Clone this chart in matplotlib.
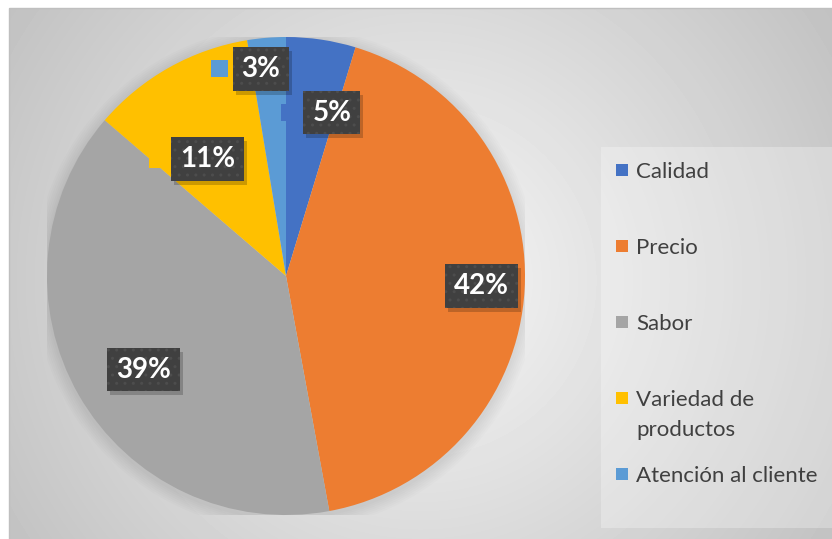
import numpy as np
import matplotlib.pyplot as plt
from matplotlib.patches import Rectangle, Circle
import matplotlib.transforms as mtransforms

categorias = ['Calidad', 'Precio', 'Sabor', 'Variedad de\nproductos', 'Atención al cliente']
porcentajes = [4.7, 42.4, 39.2, 11.1, 2.6]
colores = ['#4472C4', '#ED7D31', '#A5A5A5', '#FFC000', '#5B9BD5']

# posicion de las etiquetas (tipo "best fit" de excel)
etq_dist = [0.71, 0.82, 0.713, 0.59, 0.874]
etq_giro = [7.2, -0.3, -3.4, -4.6, -2.2]   # grados, sentido horario

W, H = 832, 539
plt.rcParams['font.family'] = ['Lato', 'DejaVu Sans']
fig = plt.figure(figsize=(W / 100, H / 100), dpi=100)

# fondo con degradado radial
bg = fig.add_axes([0, 0, 1, 1])
yy, xx = np.mgrid[8:H, 9:W]
d = np.hypot(xx - 420, yy - 280) / 490
grad = 0.97 - 0.21 * np.clip(d, 0, 1)
bg.imshow(grad, cmap='gray', vmin=0, vmax=1, extent=[9, W, H, 8], aspect='auto', interpolation='bilinear')
bg.add_patch(Rectangle((9, 8), W, H, fill=False, ec='#bfbfbf', lw=1))
bg.set_xlim(0, W)
bg.set_ylim(H, 0)
bg.axis('off')

# leyenda
bg.add_patch(Rectangle((601, 147), 231, 381, fc='white', alpha=0.28, lw=0))
for i, (cat, col) in enumerate(zip(categorias, colores)):
    y = 170 + 76 * i
    bg.add_patch(Rectangle((616, y - 6), 12, 12, fc=col, lw=0))
    for j, linea in enumerate(cat.split('\n')):
        bg.text(636, y + 2 + 30 * j, linea, fontsize=16, color='#404040', va='center', ha='left')

# pastel
cx, cy, r = 286, 276, 239
ax = fig.add_axes([(cx - r) / W, (H - cy - r) / H, 2 * r / W, 2 * r / H])
for k in range(1, 8):
    ax.add_patch(Circle((0.0, -0.01), 1 + 0.008 * k, fc='black', alpha=0.012, lw=0, zorder=0))
wedges, _ = ax.pie(porcentajes, colors=colores, startangle=90, counterclock=False,
                   radius=1, wedgeprops=dict(linewidth=0))
ax.set_xlim(-1, 1)
ax.set_ylim(-1, 1)
ax.patch.set_visible(False)

textos = []
for w, p, dist, giro in zip(wedges, porcentajes, etq_dist, etq_giro):
    ang = np.deg2rad((w.theta1 + w.theta2) / 2 - giro)
    x, y = dist * np.cos(ang), dist * np.sin(ang)
    t = ax.text(x, y, f'{p:.0f}%', fontsize=20, fontweight='bold', color='white',
                ha='center', va='center', zorder=5,
                bbox=dict(boxstyle='square,pad=0.32', fc='#404040', ec='#4d4d4d', lw=0, hatch='..'))
    textos.append(t)

# sombra de la caja y clave de color a la izquierda de cada etiqueta
fig.canvas.draw()
ren = fig.canvas.get_renderer()
ident = mtransforms.IdentityTransform()
for t, col in zip(textos, colores):
    bb = t.get_bbox_patch().get_window_extent(ren)
    ax.add_patch(Rectangle((bb.x0 + 3, bb.y0 - 4), bb.width, bb.height, fc='black', alpha=0.2,
                           lw=0, zorder=4, transform=ident))
    ymid = (bb.y0 + bb.y1) / 2
    ax.add_patch(Rectangle((bb.x0 - 22, ymid - 8.5), 17, 17, fc=col, lw=0, zorder=3,
                           transform=ident))

fig.savefig('out.png', dpi=100)
